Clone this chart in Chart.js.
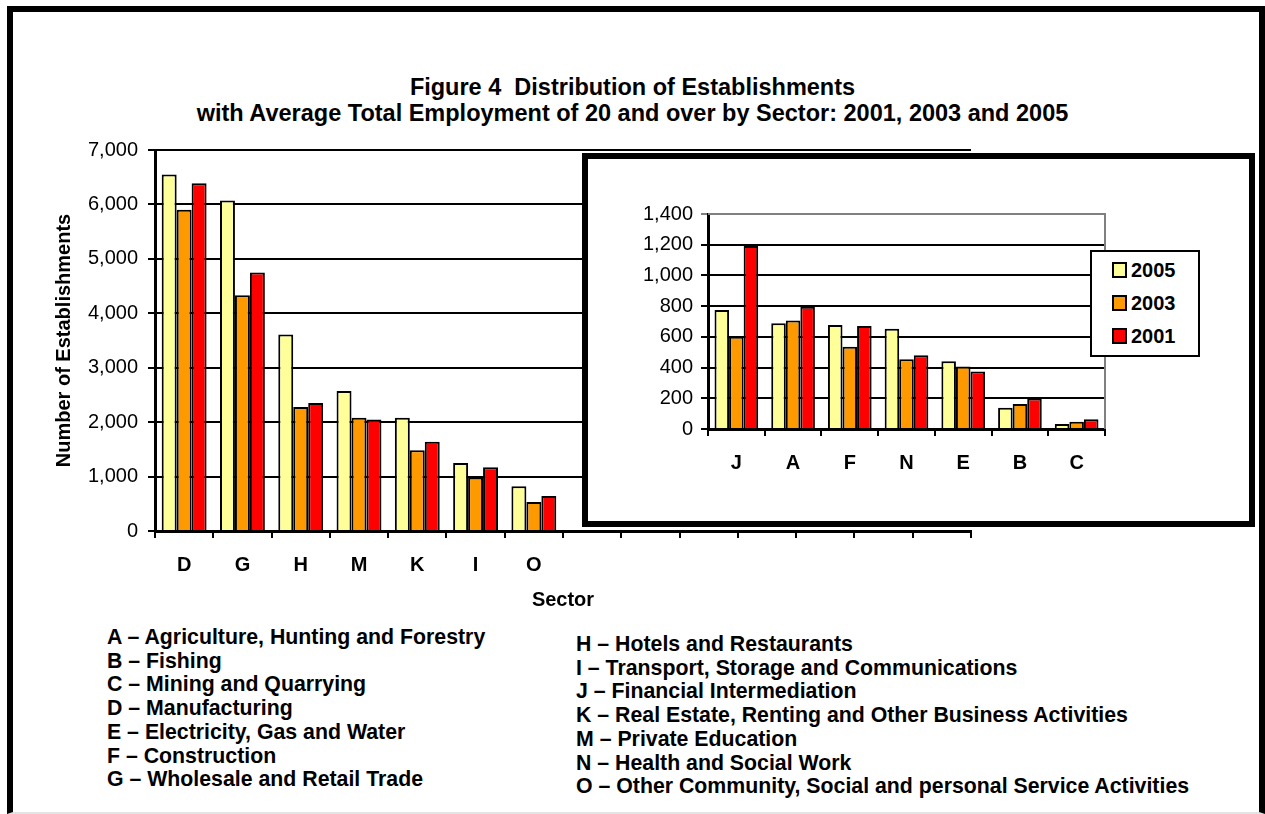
<!DOCTYPE html>
<html>
<head>
<meta charset="utf-8">
<script src="https://cdn.jsdelivr.net/npm/chart.js@4/dist/chart.umd.min.js"></script>
<style>
  body { margin: 0; background: #fff; font-family: "Liberation Sans", Arial, sans-serif; }
  #page { position: relative; width: 1265px; height: 814px; overflow: hidden; }
  #frame { position: absolute; left: 7px; top: 6px; width: 1258px; height: 808px; box-sizing: border-box;
    border-top: 6px solid #000; border-left: 6px solid #000; border-right: 6px solid #000; border-bottom: 2px solid #e4e4e4; }
  #title { position: absolute; left: 0; top: 74px; width: 1265px; text-align: center; font-weight: bold; font-size: 23.5px; line-height: 26px; }
  #mainChart { position: absolute; left: 0; top: 0; }
  #insetBox { position: absolute; left: 582px; top: 153px; width: 673px; height: 374px; box-sizing: border-box; border: 6px solid #000; background: #fff; }
  #insetChart { position: absolute; left: 0; top: 0; }
  #legend { position: absolute; left: 1090px; top: 250px; width: 110px; height: 107px; box-sizing: border-box; border: 2px solid #000; background: #fff; }
  .item { position: absolute; left: 20px; height: 20px; font-weight: bold; font-size: 20px; line-height: 20px; }
  .item span { display: inline-block; width: 15px; height: 16px; box-sizing: border-box; border: 2px solid #000; margin-right: 4px; vertical-align: -1px; }
  .notes { position: absolute; font-weight: bold; font-size: 21.3px; line-height: 23.7px; white-space: nowrap; }
</style>
</head>
<body>
<div id="page">
  <div id="frame"></div>
  <div id="title">Figure 4&nbsp; Distribution of Establishments<br>with Average Total Employment of 20 and over by Sector: 2001, 2003 and 2005</div>
  <canvas id="mainChart" width="1265" height="620"></canvas>
  <div id="insetBox"><canvas id="insetChart" width="661" height="362"></canvas></div>
  <div id="legend"></div>
  <div class="notes" id="notesLeft" style="left:107px; top:626px;"></div>
  <div class="notes" id="notesRight" style="left:576px; top:633px;"></div>
</div>
<script>
// series (legend order)
let years = ["2005", "2003", "2001"];
let colors = ["#ffff99", "#ff9900", "#ff0000"];

// big sectors, main chart
let mainSectors = ["D", "G", "H", "M", "K", "I", "O"];
let main2005 = [6550, 6070, 3610, 2570, 2080, 1250, 820];
let main2003 = [5900, 4330, 2280, 2080, 1485, 985, 535];
let main2001 = [6390, 4750, 2350, 2050, 1640, 1170, 645];

// small sectors, inset chart
let insetSectors = ["J", "A", "F", "N", "E", "B", "C"];
let inset2005 = [775, 688, 677, 653, 441, 139, 33];
let inset2003 = [601, 706, 536, 455, 407, 163, 48];
let inset2001 = [1192, 796, 671, 481, 374, 198, 63];

let mainTicks = [0, 1000, 2000, 3000, 4000, 5000, 6000, 7000];
let insetTicks = [0, 200, 400, 600, 800, 1000, 1200, 1400];

let notesLeft = [
  "A \u2013 Agriculture, Hunting and Forestry",
  "B \u2013 Fishing",
  "C \u2013 Mining and Quarrying",
  "D \u2013 Manufacturing",
  "E \u2013 Electricity, Gas and Water",
  "F \u2013 Construction",
  "G \u2013 Wholesale and Retail Trade",
];
let notesRight = [
  "H \u2013 Hotels and Restaurants",
  "I \u2013 Transport, Storage and Communications",
  "J \u2013 Financial Intermediation",
  "K \u2013 Real Estate, Renting and Other Business Activities",
  "M \u2013 Private Education",
  "N \u2013 Health and Social Work",
  "O \u2013 Other Community, Social and personal Service Activities",
];

Chart.defaults.font.family = "'Liberation Sans', Arial, sans-serif";
Chart.defaults.color = "#000";
Chart.defaults.animation = false;

function makeDatasets(series) {
  return series.map((data, i) => ({
    label: years[i],
    data: data,
    backgroundColor: colors[i],
    borderColor: "#000",
    borderWidth: 2,
    categoryPercentage: 0.77,
    barPercentage: 1,
  }));
}

function fmt(v) {
  return Number(v).toLocaleString("en-US");
}

// gray frame on top/right of inset plot area
const plotFrame = {
  id: "plotFrame",
  afterDatasetsDraw(chart, args, opts) {
    if (!opts.color) return;
    const { ctx, chartArea: a } = chart;
    ctx.save();
    ctx.strokeStyle = opts.color;
    ctx.lineWidth = 2;
    ctx.beginPath();
    ctx.moveTo(a.left, a.top);
    ctx.lineTo(a.right, a.top);
    ctx.lineTo(a.right, a.bottom);
    ctx.stroke();
    ctx.restore();
  },
};

// main chart: 14 category slots, the last 7 lie under the inset
let blanks = insetSectors.map(() => "");
let pad = insetSectors.map(() => null);
new Chart(document.getElementById("mainChart"), {
  type: "bar",
  data: {
    labels: mainSectors.concat(blanks),
    datasets: makeDatasets([main2005.concat(pad), main2003.concat(pad), main2001.concat(pad)]),
  },
  options: {
    responsive: false,
    devicePixelRatio: 1,
    layout: { padding: { left: 10, top: 150, right: 294, bottom: 4 } },
    plugins: { legend: { display: false }, tooltip: { enabled: false } },
    scales: {
      x: {
        grid: { drawOnChartArea: false, drawTicks: true, tickLength: 7, color: "#000", lineWidth: 2 },
        border: { color: "#000", width: 3 },
        ticks: { padding: 15, font: { size: 20, weight: "bold" }, maxRotation: 0, autoSkip: false },
        title: { display: true, text: "Sector", font: { size: 20, weight: "bold" }, padding: { top: 0, bottom: 4 } },
        afterFit: (axis) => { axis.height = 85; },
      },
      y: {
        min: 0,
        max: 7000,
        afterBuildTicks: (axis) => { axis.ticks = mainTicks.map((v) => ({ value: v })); },
        grid: { color: "#000", lineWidth: 2, tickLength: 7 },
        border: { color: "#000", width: 3 },
        ticks: { padding: 10, font: { size: 20 }, callback: fmt },
        title: { display: true, text: "Number of Establishments", font: { size: 20, weight: "bold" }, padding: { top: 42, bottom: 0 } },
        afterFit: (axis) => { axis.width = 145; },
      },
    },
  },
});

new Chart(document.getElementById("insetChart"), {
  type: "bar",
  data: {
    labels: insetSectors,
    datasets: makeDatasets([inset2005, inset2003, inset2001]),
  },
  options: {
    responsive: false,
    devicePixelRatio: 1,
    layout: { padding: { left: 10, top: 55, right: 144, bottom: 12 } },
    plugins: { legend: { display: false }, tooltip: { enabled: false }, plotFrame: { color: "#808080" } },
    scales: {
      x: {
        grid: { drawOnChartArea: false, drawTicks: true, tickLength: 7, color: "#000", lineWidth: 2 },
        border: { color: "#000", width: 3 },
        ticks: { padding: 15, font: { size: 20, weight: "bold" }, maxRotation: 0, autoSkip: false },
        afterFit: (axis) => { axis.height = 80; },
      },
      y: {
        min: 0,
        max: 1400,
        afterBuildTicks: (axis) => { axis.ticks = insetTicks.map((v) => ({ value: v })); },
        grid: { color: (c) => (c.tick && c.tick.value === 1400 ? "#808080" : "#000"), lineWidth: 2, tickLength: 7 },
        border: { color: "#000", width: 3 },
        ticks: { padding: 8, font: { size: 20 }, callback: fmt },
        afterFit: (axis) => { axis.width = 110; },
      },
    },
  },
  plugins: [plotFrame],
});

// legend for the inset
let legend = document.getElementById("legend");
years.forEach((y, i) => {
  legend.innerHTML += `<div class="item" style="top:${8 + i * 33}px"><span style="background:${colors[i]}"></span>${y}</div>`;
});

document.getElementById("notesLeft").innerHTML = notesLeft.join("<br>");
document.getElementById("notesRight").innerHTML = notesRight.join("<br>");
</script>
</body>
</html>
